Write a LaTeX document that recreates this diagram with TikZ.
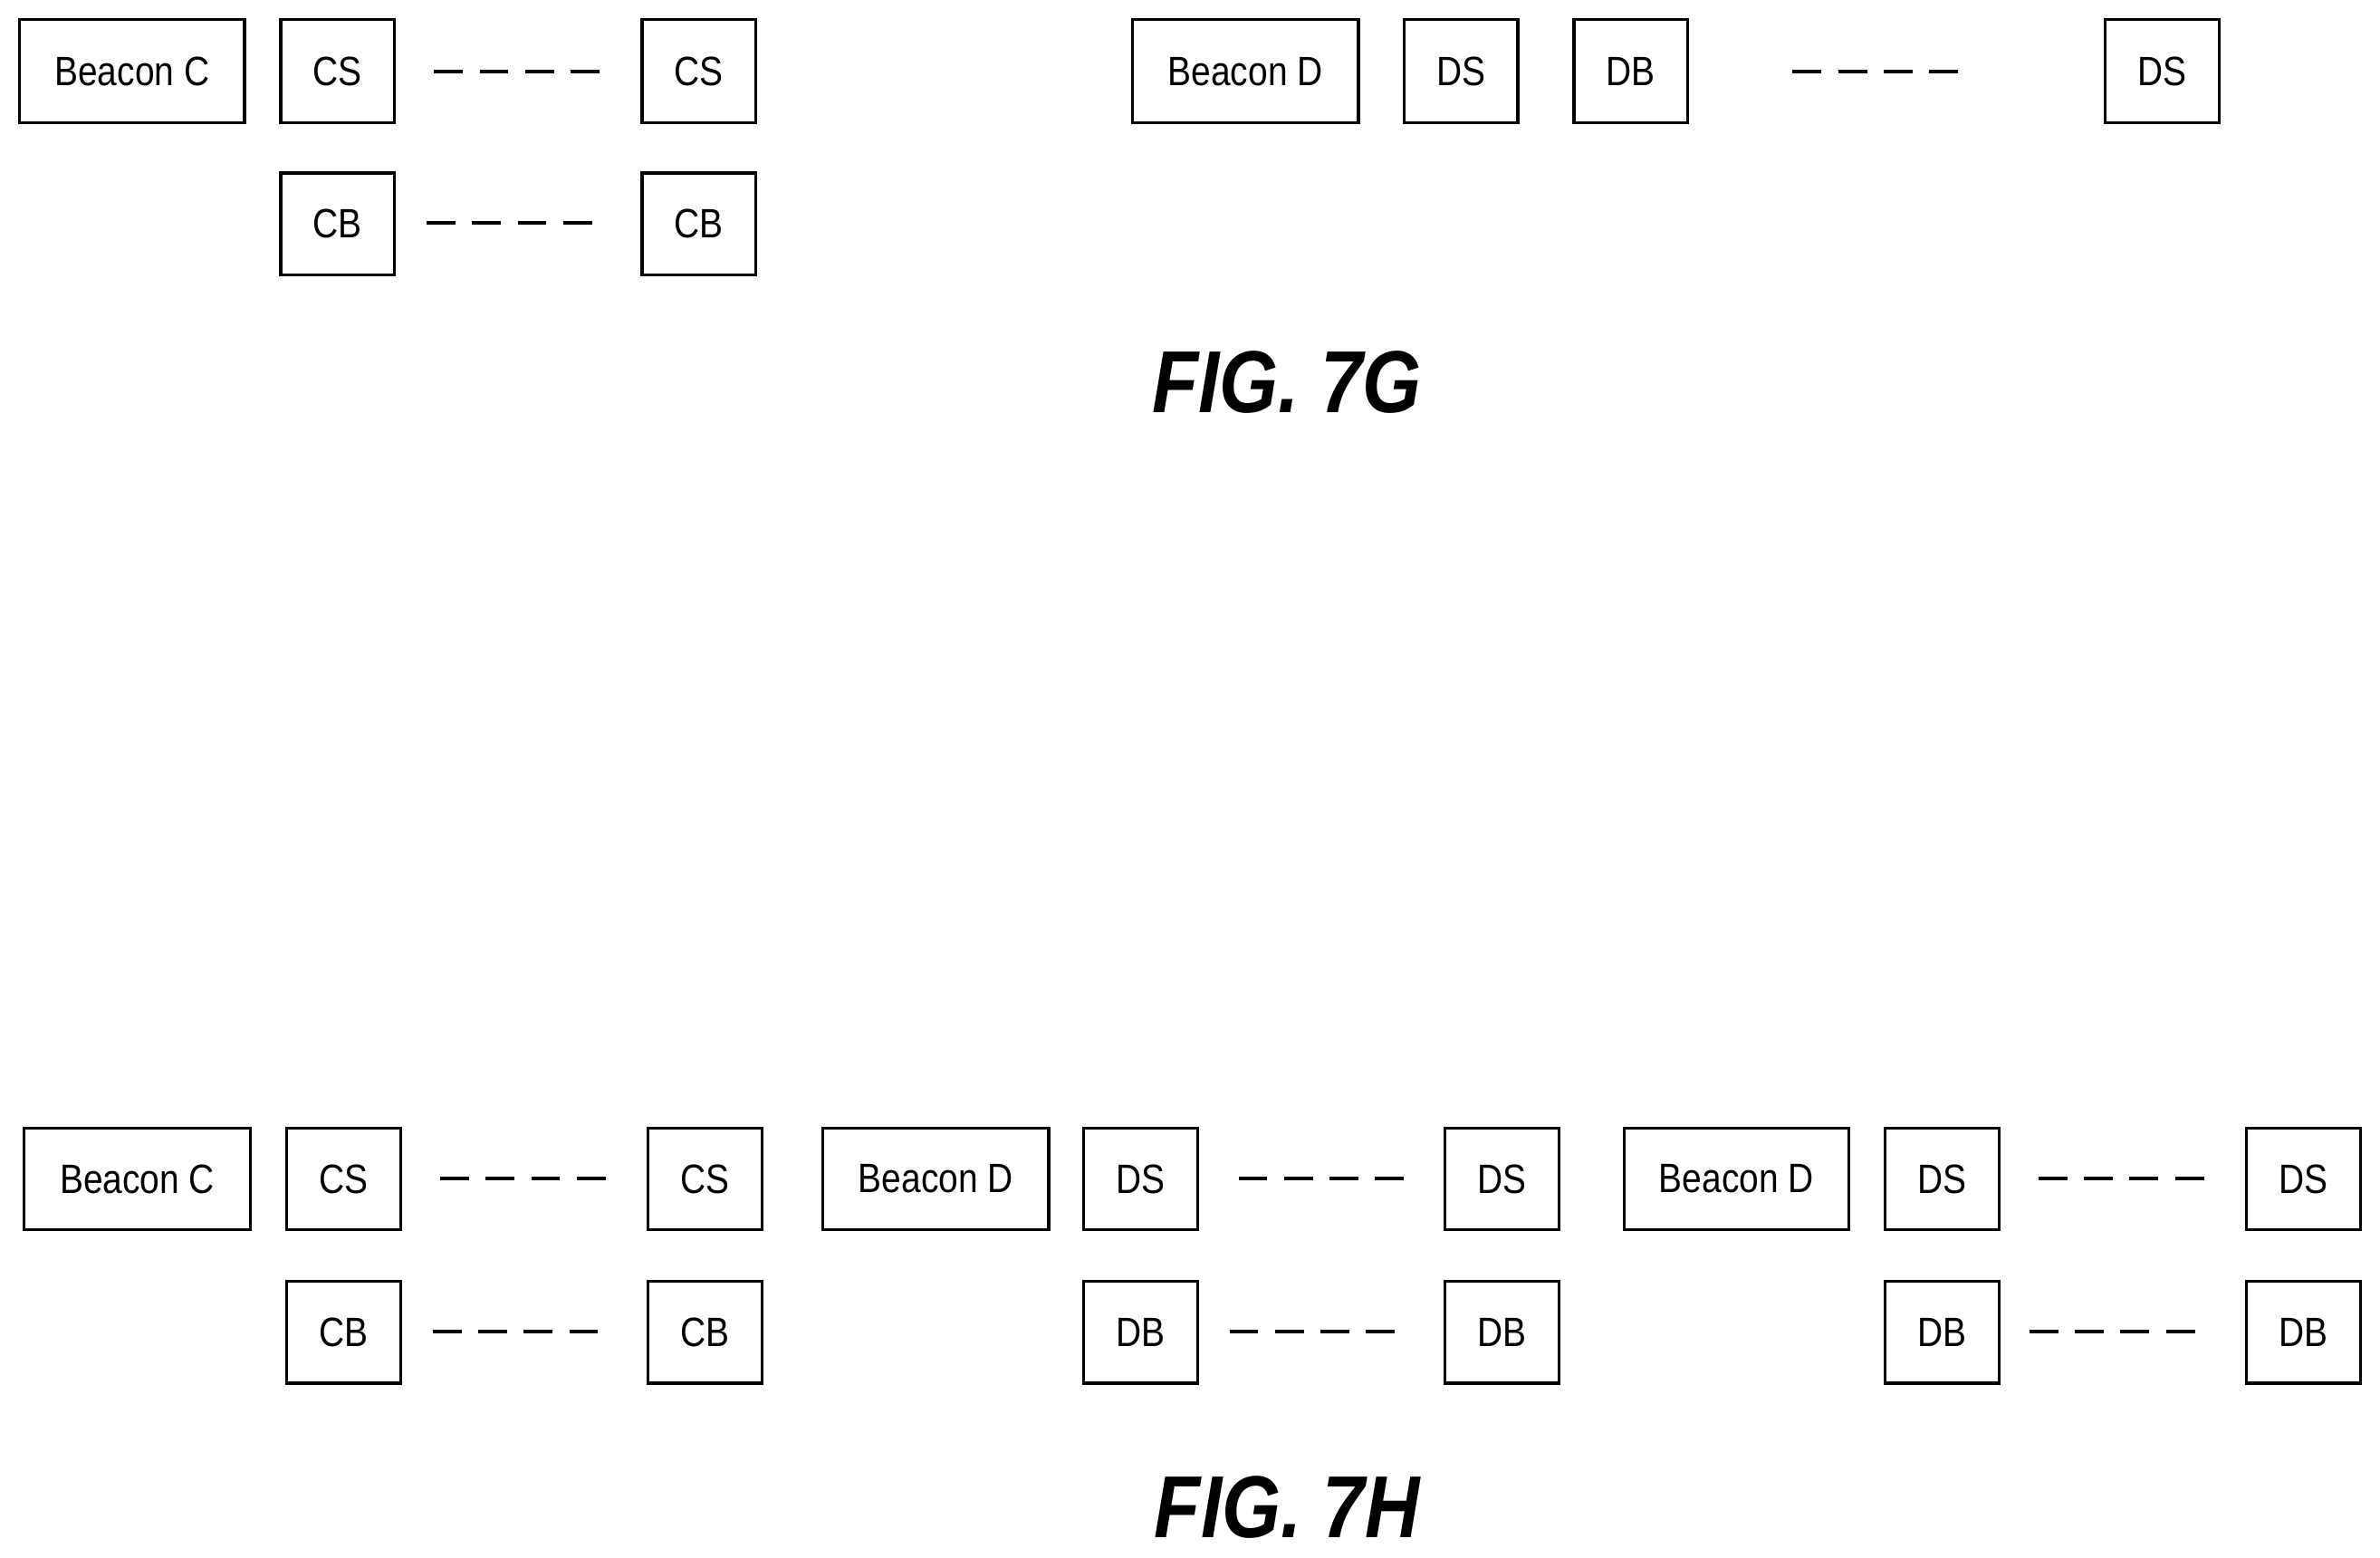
\documentclass[tikz,border=0pt]{standalone}
\usepackage{fontspec}
\setmainfont{Liberation Sans}
\newfontfamily\narrowfont[FakeStretch=0.86]{Liberation Sans}
\begin{document}
\begin{tikzpicture}[x=1pt,y=-1pt,
 bx/.style={draw,line width=2pt,inner sep=0pt,font=\narrowfont\fontsize{27}{29}\selectfont},
 dl/.style={line width=2.5pt,dash pattern=on 19pt off 11pt},
 fig/.style={font=\narrowfont\fontsize{58}{60}\selectfont\bfseries\itshape}]
\useasboundingbox (0,0) rectangle (1568,1026);
\newcommand{\bx}[6]{\node[bx,minimum width=#3-#2,minimum height=#5-#4] (#1) at ({(#2+#3)/2},{(#4+#5)/2}) {#6};}
\newcommand{\dsh}[4]{\coordinate (#1a) at (#2,#4); \coordinate (#1b) at (#3,#4); \draw[dl] (#1a) -- (#1b);}
% FIG 7G
\bx{gbc}{13}{161}{13}{81}{Beacon C}
\bx{gcs1}{185}{260}{13}{81}{CS}
\dsh{g1}{286}{396}{47}
\bx{gcs2}{423}{498}{13}{81}{CS}
\bx{gcb1}{185}{260}{114}{181}{CB}
\dsh{g2}{281}{390}{147}
\bx{gcb2}{423}{498}{114}{181}{CB}
\bx{gbd}{746}{895}{13}{81}{Beacon D}
\bx{gds1}{925}{1000}{13}{81}{DS}
\bx{gdb1}{1037}{1112}{13}{81}{DB}
\dsh{g3}{1181}{1290}{47}
\bx{gds2}{1387}{1462}{13}{81}{DS}
\node[fig] (f7g) at (848,252) {FIG. 7G};
% FIG 7H
\bx{hbc}{16}{165}{743}{810}{Beacon C}
\bx{hcs1}{189}{264}{743}{810}{CS}
\dsh{h1}{290}{400}{776}
\bx{hcs2}{427}{502}{743}{810}{CS}
\bx{hcb1}{189}{264}{844}{911}{CB}
\dsh{h2}{285}{394}{877}
\bx{hcb2}{427}{502}{844}{911}{CB}
\bx{hbd1}{542}{691}{743}{810}{Beacon D}
\bx{hds1}{714}{789}{743}{810}{DS}
\dsh{h3}{816}{925}{776}
\bx{hds2}{952}{1027}{743}{810}{DS}
\bx{hdb1}{714}{789}{844}{911}{DB}
\dsh{h4}{810}{919}{877}
\bx{hdb2}{952}{1027}{844}{911}{DB}
\bx{hbd2}{1070}{1218}{743}{810}{Beacon D}
\bx{hds3}{1242}{1317}{743}{810}{DS}
\dsh{h5}{1343}{1452}{776}
\bx{hds4}{1480}{1555}{743}{810}{DS}
\bx{hdb3}{1242}{1317}{844}{911}{DB}
\dsh{h6}{1337}{1446}{877}
\bx{hdb4}{1480}{1555}{844}{911}{DB}
\node[fig] (f7h) at (848,993) {FIG. 7H};
\end{tikzpicture}
\end{document}
